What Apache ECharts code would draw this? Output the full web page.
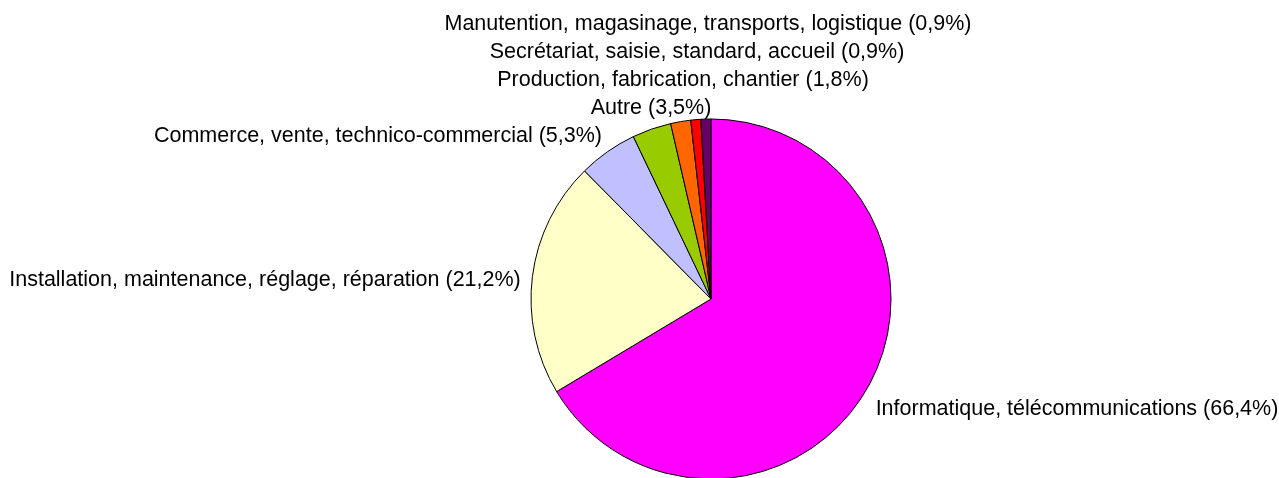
<!DOCTYPE html>
<html>
<head>
<meta charset="utf-8">
<script src="https://cdn.jsdelivr.net/npm/echarts@6/dist/echarts.min.js"></script>
<style>
  html, body { margin: 0; padding: 0; background: #fff; }
  #chart { width: 1279px; height: 478px; }
</style>
</head>
<body>
<div id="chart"></div>
<script>
  var categories = [
    'Informatique, télécommunications',
    'Installation, maintenance, réglage, réparation',
    'Commerce, vente, technico-commercial',
    'Autre',
    'Production, fabrication, chantier',
    'Secrétariat, saisie, standard, accueil',
    'Manutention, magasinage, transports, logistique'
  ];
  var values = [66.4, 21.2, 5.3, 3.5, 1.8, 0.9, 0.9];
  var colors = ['#FF00FF', '#FFFFC8', '#C0C0FF', '#99CC00', '#FF6600', '#FF0000', '#660066'];

  // label centres, placed like the Excel original
  var labelSpots = [
    { x: 1077, y: 409 },
    { x: 265, y: 280 },
    { x: 378, y: 136 },
    { x: 651, y: 108 },
    { x: 683, y: 80 },
    { x: 697, y: 52 },
    { x: 708, y: 24 }
  ];

  var pieData = categories.map(function (name, i) {
    return { name: name, value: values[i], itemStyle: { color: colors[i] } };
  });

  var myChart = echarts.init(document.getElementById('chart'));
  var option = {
    animation: false,
    series: [{
      type: 'pie',
      center: [711, 299],
      radius: 180,
      startAngle: 90,
      clockwise: true,
      avoidLabelOverlap: false,
      data: pieData,
      itemStyle: { borderColor: '#000', borderWidth: 1 },
      label: {
        show: true,
        position: 'outside',
        fontFamily: 'Liberation Sans, Arial, sans-serif',
        fontSize: 21.5,
        color: '#000',
        formatter: function (p) {
          return p.name + ' (' + p.value.toFixed(1).replace('.', ',') + '%)';
        }
      },
      labelLine: { show: false },
      labelLayout: function (params) {
        var s = labelSpots[params.dataIndex];
        return { x: s.x, y: s.y, align: 'center', verticalAlign: 'middle' };
      },
      emphasis: { disabled: true }
    }]
  };
  myChart.setOption(option);
</script>
</body>
</html>
